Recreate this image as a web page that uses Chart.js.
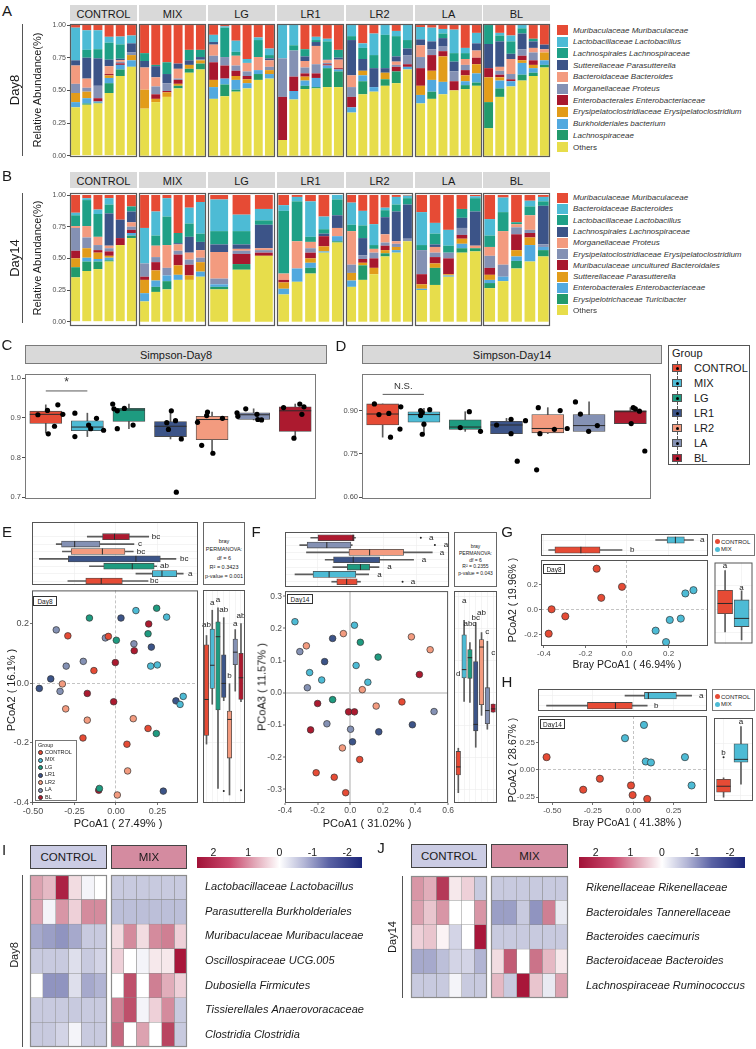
<!DOCTYPE html>
<html lang="en">
<head>
<meta charset="utf-8">
<title>Gut microbiota Day8 / Day14</title>
<script src="https://cdn.jsdelivr.net/npm/chart.js@4.4.1/dist/chart.umd.min.js"></script>
<style>
  html, body { margin: 0; background: #fff; }
  #fig { position: relative; width: 756px; height: 1049px; overflow: hidden;
         font-family: "Liberation Sans", Arial, sans-serif; color: #1a1a1a; }
  #fig canvas, #fig div { position: absolute; box-sizing: border-box; }
  .t { white-space: nowrap; line-height: 1; }
</style>
</head>
<body>
<div id="fig"></div>
<script>
// ---------------------------------------------------------------- groups
const groups = ['CONTROL', 'MIX', 'LG', 'LR1', 'LR2', 'LA', 'BL'];
const groupColours = ['#E64B35', '#4DBBD5', '#1E9B80', '#3C5488', '#F39B7F', '#8491B4', '#AC1A2F'];

// ---------------------------------------------------------------- A / B : taxa (legend order, top of stack first)
const taxaDay8 = ['Muribaculaceae Muribaculaceae', 'Lactobacillaceae Lactobacillus', 'Lachnospirales Lachnospiraceae',
  'Sutterellaceae Parasutterella', 'Bacteroidaceae Bacteroides', 'Morganellaceae Proteus',
  'Enterobacterales Enterobacteriaceae', 'Erysipelatoclostridiaceae Erysipelatoclostridium',
  'Burkholderiales bacterium', 'Lachnospiraceae', 'Others'];
const taxaDay14 = ['Muribaculaceae Muribaculaceae', 'Bacteroidaceae Bacteroides', 'Lactobacillaceae Lactobacillus',
  'Lachnospirales Lachnospiraceae', 'Morganellaceae Proteus', 'Erysipelatoclostridiaceae Erysipelatoclostridium',
  'Muribaculaceae uncultured Bacteroidales', 'Sutterellaceae Parasutterella', 'Enterobacterales Enterobacteriaceae',
  'Erysipelotrichaceae Turicibacter', 'Others'];
const taxaColours = ['#E64B35', '#4DBBD5', '#1FA087', '#3C5488', '#F39B7F', '#8491B4', '#A8182E', '#E29C1A', '#52A9DF', '#229A6C', '#E7DD4B'];
const abundanceTicks = [0, 0.25, 0.5, 0.75, 1];

// one row per sample, values from the bottom of the bar (Others) to the top (first legend entry)
const day8Control = [
  [.37, 0, .04, .07, 0, .07, .14, .04, 0, .25, .02],
  [.39, .01, .04, .05, 0, .03, .07, .16, .06, .15, .04],
  [.40, .005, .01, 0, .025, .095, 0, .21, .07, .145, .04],
  [.48, .075, .04, .02, .01, 0, .06, .05, .13, .045, .09],
  [.61, .05, .035, 0, .012, .012, .013, .01, .11, .06, .088],
  [.68, 0, .05, .04, 0, .02, 0, .07, 0, .06, .08]];
const day8Mix = [
  [.36, 0, 0, .145, 0, 0, .17, .05, .06, 0, .215],
  [.41, 0, 0, .025, .035, .06, .07, .085, .01, 0, .305],
  [.45, 0, 0, .035, .01, .06, 0, .07, .09, 0, .285],
  [.515, .02, 0, .015, .03, .01, .075, .04, 0, 0, .295],
  [.635, .03, 0, .03, 0, 0, 0, .035, .08, 0, .19],
  [.66, .045, 0, .025, 0, .01, 0, .015, .055, 0, .19]];
const day8Lg = [
  [.435, 0, .09, .055, .135, .05, .085, .02, 0, .055, .075],
  [.455, .09, .045, 0, .1, .065, 0, 0, .225, .01, .01],
  [.49, .015, .075, .03, .04, .04, .075, 0, .03, .085, .12],
  [.515, 0, .04, .03, .025, .035, .065, 0, 0, .03, .26],
  [.58, .045, .03, 0, 0, 0, .1, 0, .13, .02, .095],
  [.59, 0, .035, .03, 0, .025, .05, .015, .025, .05, .18]];
const day8Lr1 = [
  [.12, 0, 0, 0, .33, .295, 0, 0, 0, .255, 0],
  [.43, 0, .065, 0, .11, .2, 0, 0, .04, .155, 0],
  [.51, .025, .04, .03, .025, .045, .05, .035, .055, 0, .185],
  [.515, .01, .07, 0, .035, .07, .14, .03, .015, .025, .09],
  [.525, .145, .02, 0, .01, .01, .02, .005, .14, .02, .105],
  [.525, .12, .015, 0, .01, 0, .065, .015, .06, 0, .19]];
const day8Lr2 = [
  [.33, 0, .04, 0, .08, .075, .09, .27, .03, .085, 0],
  [.47, .1, .045, .035, 0, 0, 0, .09, .085, .035, .14],
  [.49, 0, .035, 0, 0, 0, 0, .145, .1, .165, .065],
  [.535, .05, 0, .05, 0, 0, 0, .035, .255, .075, 0],
  [.555, .09, 0, 0, .035, .015, .025, .04, .155, .04, .045],
  [.66, 0, .02, 0, .02, .07, 0, .05, .065, .115, 0]];
const day8La = [
  [.40, 0, .065, .07, .135, .085, .09, .045, 0, .095, .015],
  [.435, .055, .09, .07, .12, .045, 0, .06, 0, .105, .02],
  [.47, 0, .095, .195, .04, .035, 0, .065, .035, .035, .03],
  [.50, 0, 0, 0, .07, .075, 0, .075, .065, .18, .035],
  [.51, .03, .03, .045, .04, .04, .045, 0, .045, .04, .175],
  [.535, .025, .07, .07, .05, 0, .055, .055, 0, .08, .06]];
const day8Bl = [
  [.21, .2, 0, .19, .07, 0, 0, .185, .145, 0, 0],
  [.45, .065, .06, .025, .02, .03, .03, .195, .045, .02, .06],
  [.53, 0, .04, 0, .015, .04, .115, .04, .095, .045, .08],
  [.575, .045, .09, .02, .035, .05, 0, .12, .04, .025, 0],
  [.61, .025, .035, .025, .035, .06, .035, .05, .02, 0, .105],
  [.675, .02, .035, .06, 0, 0, .025, .035, 0, 0, .15]];

const day14Control = [
  [.35, .08, 0, .07, .06, .18, .015, 0, .085, .02, .14],
  [.40, .075, .03, .075, 0, .085, .09, 0, .205, .015, .025],
  [.415, .06, .02, .05, .02, .04, .065, 0, .18, .035, .115],
  [.475, .01, .02, .015, .035, .025, .02, .255, .07, .05, .025],
  [.605, 0, 0, 0, .055, 0, 0, .145, 0, 0, .195],
  [.66, .02, .02, 0, .025, .025, .035, .085, .04, 0, .09]];
const day14Mix = [
  [.16, 0, .065, .105, .025, .105, 0, 0, 0, .28, .26],
  [.235, .04, .05, .08, .065, .04, .09, 0, .08, .19, .13],
  [.255, .065, .045, 0, 0, .06, .18, 0, .225, .145, .025],
  [.33, 0, .04, .075, .085, .03, .05, .01, .08, 0, .30],
  [.33, 0, 0, .035, .085, .04, .055, .125, .105, .125, .10],
  [.355, 0, .04, .075, 0, .035, .06, .065, .065, .25, .055]];
const day14Lg = [
  [.255, .02, .02, 0, 0, .045, .21, .06, .105, .25, .035],
  [.41, .045, 0, 0, .08, .025, .015, .035, .105, .13, .155],
  [.52, 0, 0, 0, .025, .02, .015, .185, .035, .09, .11]];
const day14Lr1 = [
  [.215, 0, .045, .05, .02, 0, .05, 0, .495, .045, .08],
  [.315, 0, .105, 0, 0, 0, .215, 0, .315, .035, .015],
  [.38, .045, .04, .035, .045, .035, .05, 0, .04, .28, .05],
  [.545, 0, .01, .04, .08, 0, 0, .02, .035, .10, .17],
  [.625, .01, .04, 0, 0, 0, .065, .10, .125, .035, 0]];
const day14Lr2 = [
  [.275, 0, .05, .06, 0, .065, .265, 0, .05, .175, .06],
  [.33, .115, 0, .02, .03, .03, 0, .135, .10, .115, .125],
  [.375, 0, 0, .05, .075, .045, .03, 0, .03, .165, .23],
  [.515, .025, 0, .025, .035, .025, .065, .135, .055, .02, .10],
  [.545, 0, .02, .025, 0, .025, .02, .235, .055, .06, .015],
  [.635, 0, 0, 0, 0, .02, 0, .27, .05, .02, .005]];
const day14La = [
  [.25, 0, .01, .035, .08, .19, 0, 0, .04, .26, .135],
  [.29, .135, 0, .035, .05, .035, .045, .02, .085, .085, .22],
  [.355, 0, .01, .01, .125, .045, 0, 0, .055, .125, .275],
  [.545, .035, .035, .04, .03, .055, 0, .08, .07, 0, .11],
  [.555, .025, 0, 0, 0, 0, .02, .27, .105, .015, .01]];
const day14Bl = [
  [.265, .04, .025, .04, .055, .095, .07, 0, .09, .13, .19],
  [.32, 0, .035, 0, 0, .095, .265, 0, .15, .115, .02],
  [.42, .06, .035, .05, .125, .055, .025, 0, .015, 0, .215],
  [.475, 0, .13, .06, .035, .025, .115, 0, .07, .045, .045],
  [.515, .05, .025, 0, 0, .02, 0, .305, .035, .035, .015]];

// ---------------------------------------------------------------- C / D : Simpson index
// box statistics: [lower whisker, q1, median, q3, upper whisker]
const simpsonBoxD8 = [[.862, .886, .909, .917, .933], [.853, .868, .877, .893, .912], [.873, .891, .920, .924, .935],
  [.847, .853, .879, .891, .920], [.811, .845, .896, .904, .915], [.895, .896, .908, .913, .923], [.849, .866, .918, .928, .935]];
const simpsonPointsD8 = [[.908, .919, .933, .879, .860, .909], [.912, .853, .882, .873, .899, .869], [.935, .923, .918, .924, .873, .882],
  [.918, .888, .893, .871, .847, .713], [.889, .906, .915, .831, .811, .899], [.913, .904, .923, .909, .896, .895], [.926, .935, .928, .909, .849]];
const simpsonJitterD8 = [[-.19, .04, .29, .21, .06, .41], [-.3, -.3, .03, .08, .22, .39], [-.39, -.36, -.28, -.11, -.28, .1],
  [.02, -.09, .12, -.05, .26, .14], [-.35, -.13, -.11, -.25, .02, .25], [-.4, -.38, -.19, .08, .1, .19], [-.28, .11, .21, .16, -.03]];
const simpsonTicksD8 = [0.7, 0.8, 0.9, 1.0];

const simpsonBoxD14 = [[.808, .850, .888, .923, .923], [.818, .860, .886, .896, .908], [.828, .835, .843, .868, .896],
  [.820, .820, .850, .863, .873], [.820, .823, .838, .886, .910], [.828, .828, .848, .886, .930], [.855, .855, .896, .900, .910]];
const simpsonPointsD14 = [[.923, .886, .890, .913, .836, .808], [.900, .883, .893, .903, .853, .818], [.896, .841, .828],
  [.870, .865, .850, .820, .725], [.910, .900, .820, .835, .838, .695], [.930, .888, .828, .848], [.910, .906, .898, .855, .760]];
const simpsonJitterD14 = [[-.2, -.09, .15, .44, .42, .19], [-.08, -.08, -.04, .14, 0, -.04], [.1, -.12, .37],
  [.11, .46, -.24, .11, .26], [-.23, .3, -.19, .16, .47, -.27], [-.33, -.21, -.01, .2], [.07, .12, .22, .02, .35]];
const simpsonTicksD14 = [0.60, 0.75, 0.90];

// ---------------------------------------------------------------- E / F : PCoA, all groups ([axis 1, axis 2/3])
const pcoaDay8 = [
  [[-.29, .16], [-.046, .158], [-.133, .043], [.193, -.152], [-.199, -.184], [.066, -.205]],
  [[.12, .245], [.305, .223], [.209, .058], [.249, .062], [.386, -.071], [.405, -.044]],
  [[-.16, .22], [.245, .253], [.002, .145], [.193, .167], [.243, -.169], [-.10, -.354]],
  [[.03, .22], [.213, .122], [-.393, .015], [-.462, -.017], [.361, -.059], [.285, -.363]],
  [[-.323, -.002], [-.303, -.086], [-.173, -.124], [.104, -.119], [.07, -.295], [.008, -.376]],
  [[-.36, .18], [-.064, .153], [.108, .133], [-.30, .058], [-.197, .074], [-.337, -.027]],
  [[.197, .20], [.11, .11], [-.004, .07], [-.173, -.034], [-.014, -.062], [-.104, -.36]]];
const pcoaDay8TopBox = [[-.29, -.182, -.089, .038, .193], [.12, .219, .277, .366, .405], [-.16, -.074, .098, .23, .245],
  [-.462, -.287, .12, .267, .361], [-.323, -.27, -.082, .054, .104], [-.36, -.328, -.249, -.097, .108], [-.173, -.081, -.009, .081, .197]];
const pcoaDay8TopLetters = ['bc', 'a', 'ab', 'bc', 'bc', 'c', 'bc'];
const pcoaDay8TopLetterX = [.205, .434, .265, .386, .125, .133, .215];
const pcoaDay8RightBox = [[-.205, -.176, -.055, .129, .16], [-.071, -.018, .06, .182, .245], [-.354, -.09, .156, .206, .253],
  [-.059, -.048, -.001, .095, .22], [-.376, -.252, -.122, -.094, -.002], [-.027, .062, .104, .148, .18], [-.062, -.055, .018, .10, .20]];
const pcoaDay8RightOutliers = [[], [], [], [-.363], [], [], [-.36]];
const pcoaDay8RightLetters = ['ab', 'a', 'a', 'ab', 'b', 'a', 'ab'];
const pcoaDay8RightLetterY = [.195, .27, .279, .245, .024, .20, .226];

const pcoaDay14 = [
  [[.058, -.207], [.317, -.028], [-.209, -.248], [-.098, -.262], [-.028, -.31]],
  [[-.339, .221], [-.249, .063], [-.175, .04], [.026, .21], [.036, .085], [.108, .033]],
  [[.062, .157], [.171, .111], [-.108, -.021]],
  [[-.157, .097], [-.108, .169], [.014, -.152], [.175, -.121], [.381, -.099]],
  [[-.269, .146], [-.042, .184], [.074, .01], [-.048, -.171], [.375, .174], [.49, .134], [.159, -.041]],
  [[-.309, .128], [-.263, .016], [-.143, -.096], [.002, -.113], [.514, -.058]],
  [[-.20, -.033], [-.01, -.059], [.026, -.059], [-.243, -.115], [.424, .057]]];
const pcoaDay14TopBox = [[-.115, -.084, -.024, .04, .06], [-.339, -.229, -.131, .032, .11], [-.108, -.02, .06, .116, .173],
  [-.155, -.104, .016, .177, .384], [-.269, -.01, .116, .323, .498], [-.31, -.265, -.145, .002, .01], [-.243, -.199, .015, .022, .03]];
const pcoaDay14TopOutliers = [[.317], [], [], [], [], [.514], [.428]];
const pcoaDay14TopLetters = ['a', 'a', 'a', 'a', 'a', 'a', 'a'];
const pcoaDay14TopLetterX = [.367, .163, .223, .434, .544, .568, .478];
const pcoaDay14RightBox = [[-.31, -.255, -.23, -.182, -.172], [-.027, .046, .072, .18, .225], [-.03, .045, .109, .134, .156],
  [-.169, -.118, -.098, .097, .218], [-.07, -.037, .142, .165, .187], [-.113, -.096, -.055, .016, .16], [-.06, -.06, -.05, -.035, -.035]];
const pcoaDay14RightLetters = ['d', 'a', 'abc', 'bc', 'ab', 'c', 'c'];
const pcoaDay14RightLetterY = [.06, .286, .213, .232, .248, .188, .125];

// ---------------------------------------------------------------- G / H : Bray PCoA, CONTROL vs MIX
const brayDay8 = [
  [[-.146, .325], [-.024, .181], [-.124, .093], [-.363, .002], [-.297, -.054], [-.377, -.192]],
  [[.32, .154], [.281, .128], [.206, -.083], [.259, -.072], [.138, -.168], [.188, -.259]]];
const brayDay8TopBox = [[-.377, -.347, -.222, -.13, -.024], [.138, .193, .233, .276, .32]];
const brayDay8TopLetters = ['b', 'a'];
const brayDay8TopLetterX = [.014, .352];
const brayDay8RightBox = [[-.192, -.039, .048, .159, .325], [-.259, -.147, -.078, .078, .154]];
const brayDay8RightLetters = ['a', 'a'];
const brayDay8RightLetterY = [.365, .18];

const brayDay14 = [
  [[-.535, .116], [-.206, -.082], [-.309, -.183], [-.014, -.144], [-.004, -.232], [.086, -.268]],
  [[.066, .412], [-.051, .29], [.077, .076], [.109, .067], [.319, .116], [.36, -.144]]];
const brayDay14TopBox = [[-.535, -.283, -.11, -.006, .086], [-.051, .069, .093, .266, .36]];
const brayDay14TopLetters = ['b', 'a'];
const brayDay14TopLetterX = [.128, .406];
const brayDay14RightBox = [[-.268, -.22, -.163, -.097, -.082], [-.144, .069, .096, .246, .412]];
const brayDay14RightOutliers = [[.116], []];
const brayDay14RightLetters = ['b', 'a'];
const brayDay14RightLetterY = [.158, .458];

// ---------------------------------------------------------------- I / J : z-score heatmaps
const heatLabelsDay8 = ['Lactobacillaceae Lactobacillus', 'Parasutterella Burkholderiales', 'Muribaculaceae Muribaculaceae',
  'Oscillospiraceae UCG.005', 'Dubosiella Firmicutes', 'Tissierellales Anaerovoracaceae', 'Clostridia Clostridia'];
const heatDay8Control = [
  [0.8, 0.6, 1.9, 0.3, -0.1, 0.0], [0.8, -0.1, 0.9, 0.4, 1.0, 1.0], [-0.8, -0.9, -1.0, -0.8, -0.5, -0.5],
  [-0.5, -0.5, -0.5, -0.3, -0.5, -0.4], [0.0, -1.0, -1.0, -0.3, -0.8, -0.7], [-0.5, -0.5, -0.5, -0.5, -0.5, -0.5],
  [-0.5, -0.5, -0.4, -0.1, -0.5, -0.5]];
const heatDay8Mix = [
  [-0.5, -0.5, -0.5, -0.5, -0.5, -0.5], [-0.6, -0.6, -0.6, -0.6, -0.6, -0.6], [0.3, 1.0, 0.3, 1.0, 1.1, 0.4],
  [0.4, 0.0, -0.1, 0.2, 0.2, 2.0], [0.0, 1.5, 0.0, 1.1, 0.7, 0.4], [1.1, 1.5, -0.1, 0.4, 1.0, -0.5],
  [1.3, 0.0, 0.8, 0.0, 1.6, -0.5]];
const heatLabelsDay14 = ['Rikenellaceae Rikenellaceae', 'Bacteroidales Tannerellaceae', 'Bacteroides caecimuris',
  'Bacteroidaceae Bacteroides', 'Lachnospiraceae Ruminococcus'];
const heatDay14Control = [
  [0.9, 0.7, 1.7, 0.2, 0.4, -0.5], [0.8, 0.5, 0.9, 0.0, 0.0, 0.9], [0.4, 0.5, 0.1, -0.4, 0.0, 2.0],
  [-0.8, -0.8, -0.6, -0.4, -0.4, -0.7], [-0.5, -0.5, -0.5, -0.1, -0.5, -0.5]];
const heatDay14Mix = [
  [-0.5, -0.5, -0.5, -0.5, -0.5, -0.5], [-0.9, -0.9, -0.5, -1.0, 1.1, -0.2], [-0.5, -0.5, -0.5, -0.5, -0.5, -0.5],
  [0.3, 1.4, 0.0, 1.2, 0.6, 0.2], [0.6, -0.5, 2.0, 0.5, -0.2, 0.8]];
const colourBarLabels = ['2', '1', '0', '-1', '-2'];

// ================================================================ helpers
const fig = document.getElementById('fig');
const PAD = 6;

Chart.defaults.font.family = '"Liberation Sans", Arial, sans-serif';
Chart.defaults.animation = false;
Chart.defaults.responsive = false;
Chart.defaults.maintainAspectRatio = false;
Chart.defaults.events = [];
Chart.defaults.plugins.legend.display = false;
Chart.defaults.plugins.tooltip.enabled = false;

/** Strokes the plot area, like the panel border of ggplot */
const framePlugin = {
  id: 'frame',
  defaults: { color: '#555', width: 1 },
  afterDraw(chart, args, opts) {
    const { ctx, chartArea: a } = chart;
    ctx.save();
    ctx.strokeStyle = opts.color;
    ctx.lineWidth = opts.width;
    ctx.strokeRect(a.left + 0.5, a.top + 0.5, a.width - 1, a.height - 1);
    ctx.restore();
  }
};

/** Small text annotations placed in data coordinates (letters, significance) */
const tagPlugin = {
  id: 'tags',
  defaults: { items: [], size: 8, align: 'center', color: '#1a1a1a' },
  afterDatasetsDraw(chart, args, opts) {
    const { ctx, scales } = chart;
    ctx.save();
    ctx.fillStyle = opts.color;
    ctx.font = opts.size + 'px "Liberation Sans", Arial, sans-serif';
    ctx.textAlign = opts.align;
    ctx.textBaseline = 'middle';
    opts.items.forEach(t => {
      ctx.fillText(t.text, scales.x.getPixelForValue(t.x), scales.y.getPixelForValue(t.y));
    });
    ctx.restore();
  }
};
Chart.register(framePlugin, tagPlugin);

/**
 * Canvas whose chart area lands on `area` ([x, y, w, h]) once axes of the given sizes are laid out
 */
function makeCanvas(area, axisLeft = 0, axisBottom = 0, axisRight = 0, padY = PAD) {
  const c = document.createElement('canvas');
  const w = Math.round(area[2] + axisLeft + axisRight + 2 * PAD);
  const h = Math.round(area[3] + axisBottom + 2 * padY);
  c.width = w;
  c.height = h;
  Object.assign(c.style, {
    left: (area[0] - axisLeft - PAD) + 'px', top: (area[1] - padY) + 'px',
    width: w + 'px', height: h + 'px'
  });
  fig.appendChild(c);
  return c;
}

function addBox(x, y, w, h, style) {
  const d = document.createElement('div');
  Object.assign(d.style, { left: x + 'px', top: y + 'px', width: w + 'px', height: h + 'px' }, style);
  fig.appendChild(d);
  return d;
}

function addText(text, x, y, o = {}) {
  const d = document.createElement('div');
  d.className = 't';
  d.textContent = text;
  d.style.left = x + 'px';
  d.style.top = y + 'px';
  d.style.fontSize = (o.size || 10) + 'px';
  if (o.italic) d.style.fontStyle = 'italic';
  if (o.color) d.style.color = o.color;
  const ax = o.align === 'left' ? '0' : o.align === 'right' ? '-100%' : '-50%';
  d.style.transform = `translate(${ax}, -50%)` + (o.rotate ? ` rotate(${o.rotate}deg)` : '');
  fig.appendChild(d);
  return d;
}

function fixedTicks(values) {
  return ax => { ax.ticks = values.map(v => ({ value: v })); };
}

/** z-score -> colour of the heatmap scale (red 2 ... white 0 ... blue -2) */
function zColour(z) {
  const hi = [168, 22, 58], mid = [255, 255, 255], lo = [33, 41, 128];
  const t = Math.min(Math.abs(z) / 2, 1);
  const end = z >= 0 ? hi : lo;
  const c = mid.map((m, i) => Math.round(m + (end[i] - m) * t));
  return `rgb(${c.join(',')})`;
}

/**
 * Whisker, box and median datasets of a box plot
 * @param {Array} stats - [min, q1, median, q3, max] per group
 */
function boxDatasets(stats, colours, horizontal, boxWidth) {
  const idx = horizontal ? 'y' : 'x';
  const val = horizontal ? 'x' : 'y';
  const at = (g, v) => ({ [idx]: g + 1, [val]: v });
  return [
    { type: 'bar', indexAxis: idx, grouped: false, order: 3,
      data: stats.map((s, g) => at(g, [s[0], s[4]])),
      backgroundColor: '#5c5c5c', borderWidth: 0, barThickness: 1 },
    { type: 'bar', indexAxis: idx, grouped: false, order: 2,
      data: stats.map((s, g) => at(g, [s[1], s[3]])),
      backgroundColor: colours.slice(0, stats.length), borderColor: '#4a4a4a', borderWidth: 0.8,
      borderSkipped: false, barThickness: boxWidth },
    { type: 'scatter', order: 1,
      data: stats.map((s, g) => at(g, s[2])),
      pointStyle: 'line', pointRadius: boxWidth / 2, pointRotation: horizontal ? 90 : 0,
      pointBorderColor: '#2b2b2b', pointBorderWidth: 1 }
  ];
}

// ================================================================ A / B : stacked composition
function drawAbundance(rowsByGroup, top, yRange, stripTop) {
  rowsByGroup.forEach((rows, g) => {
    const x0 = Math.round(70 + g * 68.9);
    const axisW = g === 0 ? 24 : 0;
    const canvas = makeCanvas([x0, top, 67, 133], axisW);
    new Chart(canvas, {
      type: 'bar',
      data: {
        labels: rows.map((r, i) => 'S' + (i + 1)),
        datasets: rows[0].map((v, k) => ({
          data: rows.map(r => r[k]),
          backgroundColor: taxaColours[10 - k],
          borderWidth: 0,
          categoryPercentage: 0.8,
          barPercentage: 1
        }))
      },
      options: {
        layout: { padding: PAD },
        plugins: { frame: { color: '#5a5a5a', width: 1.2 } },
        scales: {
          x: { stacked: true, display: false },
          y: {
            stacked: true, min: yRange[0], max: yRange[1], display: g === 0,
            afterBuildTicks: fixedTicks(abundanceTicks),
            afterFit: ax => { ax.width = axisW; },
            ticks: { font: { size: 7 }, color: '#4d4d4d', padding: 1, autoSkip: false, callback: v => v.toFixed(2) },
            grid: { drawOnChartArea: false, tickLength: 3, color: '#4d4d4d' },
            border: { display: false }
          }
        }
      }
    });
    addBox(x0, stripTop, 67, 16, { background: '#d9d9d9' });
    addText(groups[g], x0 + 33.5, stripTop + 8.5, { size: 11 });
  });
}

function drawTaxaLegend(taxa, top, step) {
  taxa.forEach((name, i) => {
    const y = top + i * step;
    addBox(557, y, 11, 10, { background: taxaColours[i] });
    addText(name, 573, y + 5.5, { size: 8, align: 'left', italic: name !== 'Others', color: '#333' });
  });
}

addText('A', 7, 10, { size: 15 });
drawAbundance([day8Control, day8Mix, day8Lg, day8Lr1, day8Lr2, day8La, day8Bl], 24, [-0.01, 1.008], 5);
addText('Relative Abundance(%)', 37, 90, { size: 11, rotate: -90 });
addText('Day8', 14, 90, { size: 13, rotate: -90 });
addBox(22, 24, 1, 132, { background: '#555' });
drawTaxaLegend(taxaDay8, 25, 11.7);

addText('B', 7, 175, { size: 15 });
drawAbundance([day14Control, day14Mix, day14Lg, day14Lr1, day14Lr2, day14La, day14Bl], 193, [-0.034, 1.016], 172);
addText('Relative Abundance(%)', 37, 258, { size: 11, rotate: -90 });
addText('Day14', 14, 258, { size: 13, rotate: -90 });
addBox(22, 193, 1, 130, { background: '#555' });
drawTaxaLegend(taxaDay14, 192.7, 11.27);

// ================================================================ C / D : alpha diversity
function drawAlpha(area, axisLeft, cfg) {
  const canvas = makeCanvas(area, axisLeft);
  const datasets = boxDatasets(cfg.stats, groupColours, false, 32);
  datasets.push({
    type: 'scatter', order: 0,
    data: cfg.values.flatMap((vals, g) => vals.map((v, k) => ({ x: g + 1 + cfg.jitter[g][k], y: v }))),
    pointRadius: 2.6, pointBackgroundColor: '#000', pointBorderWidth: 0
  });
  datasets.push({
    type: 'line', order: 0,
    data: [{ x: 1, y: cfg.sig[0] }, { x: 2, y: cfg.sig[0] }],
    borderColor: '#5a5a5a', borderWidth: 1, pointRadius: 0
  });
  new Chart(canvas, {
    type: 'bar',
    data: { datasets },
    options: {
      layout: { padding: PAD },
      plugins: {
        frame: { color: '#7a7a7a' },
        tags: { items: [{ x: 1.5, y: cfg.sig[1], text: cfg.sig[2] }], size: cfg.sigSize, color: '#333' }
      },
      scales: {
        x: { type: 'linear', min: 0.5, max: 7.5, display: false, offset: false },
        y: {
          type: 'linear', min: cfg.range[0], max: cfg.range[1], offset: false,
          afterBuildTicks: fixedTicks(cfg.ticks),
          afterFit: ax => { ax.width = axisLeft; },
          ticks: { font: { size: 7.5 }, color: '#4d4d4d', padding: 1, autoSkip: false, callback: v => v.toFixed(cfg.digits) },
          grid: { drawOnChartArea: false, tickLength: 3, color: '#4d4d4d' },
          border: { display: false }
        }
      }
    }
  });
  addBox(area[0], 345, area[2], 19, { background: '#d9d9d9', border: '1px solid #7a7a7a' });
  addText(cfg.title, area[0] + area[2] / 2, 354.5, { size: 11 });
}

addText('C', 7, 344, { size: 15 });
drawAlpha([25, 363, 302, 147], 25, {
  stats: simpsonBoxD8, values: simpsonPointsD8, jitter: simpsonJitterD8, ticks: simpsonTicksD8,
  range: [0.6957, 1.0107], digits: 1, sig: [0.968, 0.988, '*'], sigSize: 12, title: 'Simpson-Day8'
});
addText('D', 341, 345, { size: 15 });
drawAlpha([362, 363, 300, 147], 30, {
  stats: simpsonBoxD14, values: simpsonPointsD14, jitter: simpsonJitterD14, ticks: simpsonTicksD14,
  range: [0.594, 1.0265], digits: 2, sig: [0.956, 0.985, 'N.S.'], sigSize: 9.5, title: 'Simpson-Day14'
});

// group legend
addBox(668, 345, 82, 120, { border: '1px solid #555', background: '#fff' });
addText('Group', 672, 353, { size: 11, align: 'left' });
groups.forEach((g, i) => {
  const y = 368 + i * 15;
  addBox(676.5, y - 7, 1, 14, { background: '#555' });
  addBox(672, y - 4, 10, 8, { background: groupColours[i], border: '1px solid #555' });
  addBox(675.5, y - 1.5, 3, 3, { background: '#000', borderRadius: '50%' });
  addText(g, 694, y, { size: 11, align: 'left' });
});

// ================================================================ E - H : ordinations
function pcoaAxis(range, ticks, size, font, zero, digits) {
  return {
    type: 'linear', min: range[0], max: range[1],
    afterBuildTicks: fixedTicks(ticks),
    afterFit: ax => { if (ax.isHorizontal()) ax.height = size; else ax.width = size; },
    ticks: { font: { size: font }, color: '#4d4d4d', padding: 1, maxRotation: 0, autoSkip: false, callback: v => v.toFixed(digits) },
    grid: {
      color: c => (c.tick && c.tick.value === 0 ? zero.color : 'rgba(0,0,0,0)'),
      lineWidth: zero.width, tickLength: 2, tickColor: '#4d4d4d', tickWidth: 0.8
    },
    border: { display: false, dash: zero.dash }
  };
}

function drawPcoa(area, cfg) {
  const canvas = makeCanvas(area, cfg.axisLeft, cfg.axisBottom);
  new Chart(canvas, {
    type: 'scatter',
    data: {
      datasets: cfg.points.map((pts, g) => ({
        data: pts.map(p => ({ x: p[0], y: p[1] })),
        pointBackgroundColor: groupColours[g],
        pointBorderColor: '#333',
        pointBorderWidth: 0.7,
        pointRadius: cfg.radius
      }))
    },
    options: {
      layout: { padding: PAD },
      plugins: { frame: { color: '#555' } },
      scales: {
        x: pcoaAxis(cfg.xRange, cfg.xTicks, cfg.axisBottom, cfg.font, cfg.zero, cfg.xDigits),
        y: pcoaAxis(cfg.yRange, cfg.yTicks, cfg.axisLeft, cfg.font, cfg.zero, cfg.yDigits)
      }
    }
  });
}

function drawMarginal(area, cfg) {
  const h = cfg.horizontal;
  const canvas = makeCanvas(area);
  const datasets = boxDatasets(cfg.stats, groupColours, h, cfg.boxWidth);
  if (cfg.outliers) {
    datasets.push({
      type: 'scatter', order: 0,
      data: cfg.outliers.flatMap((vals, g) => vals.map(v => (h ? { x: v, y: g + 1 } : { x: g + 1, y: v }))),
      pointRadius: 1, pointBackgroundColor: '#222', pointBorderWidth: 0
    });
  }
  const faint = { color: '#ececec', lineWidth: 0.6, drawTicks: false, offset: false };
  const groupAxis = {
    type: 'linear', min: cfg.groupRange[0], max: cfg.groupRange[1], offset: false,
    afterBuildTicks: fixedTicks(cfg.stats.map((s, i) => i + 1)),
    afterFit: ax => { if (ax.isHorizontal()) ax.height = 0; else ax.width = 0; },
    ticks: { display: false }, grid: faint, border: { display: false }
  };
  const valueAxis = {
    type: 'linear', min: cfg.valueRange[0], max: cfg.valueRange[1], offset: false,
    afterBuildTicks: fixedTicks(cfg.valueTicks),
    afterFit: ax => { if (ax.isHorizontal()) ax.height = 0; else ax.width = 0; },
    ticks: { display: false }, grid: faint, border: { display: false }
  };
  new Chart(canvas, {
    type: 'bar',
    data: { datasets },
    options: {
      indexAxis: h ? 'y' : 'x',
      layout: { padding: PAD },
      plugins: {
        frame: { color: '#555' },
        tags: {
          items: cfg.letters.map((t, g) => (h ? { x: cfg.letterAt[g], y: g + 1, text: t } : { x: g + 1, y: cfg.letterAt[g], text: t })),
          size: 8, align: h ? 'left' : 'center'
        }
      },
      scales: h ? { x: valueAxis, y: groupAxis } : { x: groupAxis, y: valueAxis }
    }
  });
}

function statBox(area, lines, first, step, size) {
  addBox(area[0], area[1], area[2], area[3], { border: '1px solid #666', background: '#fff' });
  lines.forEach((l, i) => addText(l, area[0] + area[2] / 2, first + i * step, { size }));
}

function dayTag(text, x, y, w, h) {
  addBox(x, y, w, h, { border: '1px solid #333', background: '#fff' });
  addText(text, x + w / 2, y + h / 2 + 0.5, { size: 6.5 });
}

const dashedZero = { color: '#b5b5b5', width: 0.8, dash: [3, 2] };

// ---- E
addText('E', 7, 531, { size: 15 });
const eX = [-0.506, 0.494], eY = [-0.403, 0.313];
drawPcoa([32, 590, 166, 213], {
  points: pcoaDay8, axisLeft: 32, axisBottom: 14, radius: 3.3, font: 9, zero: dashedZero,
  xRange: eX, yRange: eY, xTicks: [-0.5, -0.25, 0, 0.25], yTicks: [-0.4, -0.2, 0, 0.2], xDigits: 2, yDigits: 1
});
drawMarginal([32, 522, 166, 63], {
  horizontal: true, stats: pcoaDay8TopBox, boxWidth: 6, groupRange: [0.46, 8.99],
  valueRange: eX, valueTicks: [-0.5, -0.25, 0, 0.25], letters: pcoaDay8TopLetters, letterAt: pcoaDay8TopLetterX
});
drawMarginal([203, 590, 42, 213], {
  horizontal: false, stats: pcoaDay8RightBox, outliers: pcoaDay8RightOutliers, boxWidth: 4.5, groupRange: [0.39, 7.7],
  valueRange: eY, valueTicks: [-0.4, -0.2, 0, 0.2], letters: pcoaDay8RightLetters, letterAt: pcoaDay8RightLetterY
});
statBox([203, 522, 42, 63], ['bray', 'PERMANOVA:', 'df = 6', 'R\u00b2 = 0.3423', 'p-value = 0.001'], 541.7, 8.7, 5.5);
dayTag('Day8', 33, 596, 24, 10);
addText('PCoA1 ( 27.49% )', 118, 823, { size: 11 });
addText('PCoA2 ( 16.1% )', 11, 690, { size: 11, rotate: -90 });
addBox(35, 740, 42, 61, { border: '1px solid #777', background: '#fff' });
addText('Group', 38, 745.5, { size: 5.5, align: 'left' });
groups.forEach((g, i) => {
  const y = 752.5 + i * 7.5;
  addBox(38, y - 2.5, 5, 5, { background: groupColours[i], borderRadius: '50%', border: '0.5px solid #333' });
  addText(g, 45, y, { size: 5.5, align: 'left' });
});

// ---- F
addText('F', 256, 531, { size: 15 });
const fX = [-0.4, 0.6], fY = [-0.342, 0.316];
drawPcoa([285, 591, 164, 212], {
  points: pcoaDay14, axisLeft: 35, axisBottom: 14, radius: 3.3, font: 8.5, zero: { color: '#d6d6d6', width: 2, dash: [] },
  xRange: fX, yRange: fY, xTicks: [-0.4, -0.2, 0, 0.2, 0.4, 0.6], yTicks: [-0.3, -0.2, -0.1, 0, 0.1, 0.2, 0.3], xDigits: 1, yDigits: 1
});
drawMarginal([285, 532, 164, 55], {
  horizontal: true, stats: pcoaDay14TopBox, outliers: pcoaDay14TopOutliers, boxWidth: 6, groupRange: [0.28, 7.78],
  valueRange: fX, valueTicks: [-0.4, -0.2, 0, 0.2, 0.4, 0.6], letters: pcoaDay14TopLetters, letterAt: pcoaDay14TopLetterX
});
drawMarginal([454, 591, 43, 212], {
  horizontal: false, stats: pcoaDay14RightBox, boxWidth: 4.5, groupRange: [0.26, 7.66],
  valueRange: fY, valueTicks: [-0.3, -0.2, -0.1, 0, 0.1, 0.2, 0.3], letters: pcoaDay14RightLetters, letterAt: pcoaDay14RightLetterY
});
statBox([454, 532, 43, 55], ['bray', 'PERMANOVA:', 'df = 6', 'R\u00b2 = 0.2355', 'p-value = 0.043'], 546, 6.8, 5);
dayTag('Day14', 287, 594, 26, 10);
addText('PCoA1 ( 31.02% )', 367, 823, { size: 11 });
addText('PCoA3 ( 11.57% )', 262, 687, { size: 11, rotate: -90 });

// ---- G / H
function drawPairLegend(top) {
  addBox(712, top, 43, 22, { border: '1px solid #777', background: '#fff' });
  ['CONTROL', 'MIX'].forEach((g, i) => {
    const y = top + 7.5 + i * 7.5;
    addBox(714.5, y - 2.5, 5, 5, { background: groupColours[i], borderRadius: '50%' });
    addText(g, 721, y, { size: 6, align: 'left' });
  });
}

addText('G', 507, 531, { size: 15 });
const gX = [-0.414, 0.39], gY = [-0.29, 0.394];
drawPcoa([541, 560, 167, 86], {
  points: brayDay8, axisLeft: 30, axisBottom: 12, radius: 3.6, font: 8, zero: dashedZero,
  xRange: gX, yRange: gY, xTicks: [-0.4, -0.2, 0, 0.2], yTicks: [-0.2, 0, 0.2], xDigits: 1, yDigits: 1
});
drawMarginal([541, 534, 167, 22], {
  horizontal: true, stats: brayDay8TopBox, boxWidth: 6.5, groupRange: [0.4, 2.6],
  valueRange: gX, valueTicks: [-0.4, -0.2, 0, 0.2], letters: brayDay8TopLetters, letterAt: brayDay8TopLetterX
});
drawMarginal([712, 560, 43, 86], {
  horizontal: false, stats: brayDay8RightBox, boxWidth: 15, groupRange: [0.36, 2.66],
  valueRange: gY, valueTicks: [-0.2, 0, 0.2], letters: brayDay8RightLetters, letterAt: brayDay8RightLetterY
});
drawPairLegend(534);
dayTag('Day8', 543, 564, 22, 10);
addText('Bray PCoA1 ( 46.94% )', 627, 664, { size: 10.5 });
addText('PCoA2 ( 19.96% )', 512, 600, { size: 10.5, rotate: -90 });

addText('H', 507, 681, { size: 15 });
const hX = [-0.588, 0.455], hY = [-0.305, 0.494];
drawPcoa([538, 716, 169, 87], {
  points: brayDay14, axisLeft: 30, axisBottom: 12, radius: 3.6, font: 8, zero: dashedZero,
  xRange: hX, yRange: hY, xTicks: [-0.5, -0.25, 0, 0.25], yTicks: [-0.25, 0, 0.25], xDigits: 2, yDigits: 2
});
drawMarginal([538, 689, 169, 22], {
  horizontal: true, stats: brayDay14TopBox, boxWidth: 6.5, groupRange: [0.47, 2.67],
  valueRange: hX, valueTicks: [-0.5, -0.25, 0, 0.25], letters: brayDay14TopLetters, letterAt: brayDay14TopLetterX
});
drawMarginal([712, 716, 43, 87], {
  horizontal: false, stats: brayDay14RightBox, outliers: brayDay14RightOutliers, boxWidth: 14, groupRange: [0.45, 2.69],
  valueRange: hY, valueTicks: [-0.25, 0, 0.25], letters: brayDay14RightLetters, letterAt: brayDay14RightLetterY
});
drawPairLegend(689);
dayTag('Day14', 540, 719, 25, 10);
addText('Bray PCoA1 ( 41.38% )', 627, 822, { size: 10.5 });
addText('PCoA2 ( 28.67% )', 512, 760, { size: 10.5, rotate: -90 });

// ================================================================ I / J : heatmaps
function drawHeat(area, rows, labels, showLabels) {
  const labelWidth = showLabels ? 180 : 0;
  // the label axis asks for half a label plus its padding above and below the plot, so leave room for it
  const padY = 22;
  const canvas = makeCanvas(area, 0, 0, labelWidth, padY);
  new Chart(canvas, {
    type: 'bar',
    data: {
      labels,
      datasets: rows[0].map((v, j) => ({
        data: rows.map(() => 1),
        backgroundColor: rows.map(r => zColour(r[j])),
        borderColor: '#8c8c8c', borderWidth: 0.5, borderSkipped: false,
        barPercentage: 1, categoryPercentage: 1
      }))
    },
    options: {
      indexAxis: 'y',
      layout: { padding: { left: PAD, right: PAD, top: padY, bottom: padY } },
      plugins: { frame: { color: '#8c8c8c', width: 1.2 } },
      scales: {
        x: { stacked: true, min: 0, max: rows[0].length, display: false },
        y: {
          stacked: true, position: 'right', display: showLabels,
          // afterFit also runs for a hidden axis, so the width must follow the flag
          afterFit: ax => { ax.width = labelWidth; },
          ticks: { font: { size: 11, style: 'italic' }, color: '#1a1a1a', padding: 10, autoSkip: false },
          grid: { display: false }, border: { display: false }
        }
      }
    }
  });
}

function drawHeatHeader(ctrl, mix, top, bar) {
  addBox(ctrl[0], top, ctrl[1], 24, { background: '#CBCCE4', border: '1px solid #444' });
  addText('CONTROL', ctrl[0] + ctrl[1] / 2, top + 12.5, { size: 11.5 });
  addBox(mix[0], top, mix[1], 24, { background: '#D48BA0', border: '1px solid #444' });
  addText('MIX', mix[0] + mix[1] / 2, top + 12.5, { size: 11.5 });
  addBox(bar[0], 857, bar[1], 11, {
    background: 'linear-gradient(to right, #a11237, #c9476c 20%, #e2a7b7 35%, #ffffff 50%, #b3b6d6 65%, #5a62a4 80%, #1c2679)'
  });
  [0.1, 0.31, 0.5, 0.7, 0.91].forEach((f, i) => addText(colourBarLabels[i], bar[0] + bar[1] * f, 851.5, { size: 10.5 }));
}

addText('I', 4, 849, { size: 15 });
drawHeat([30, 875, 77, 172], heatDay8Control, heatLabelsDay8, false);
drawHeat([111, 875, 76, 172], heatDay8Mix, heatLabelsDay8, true);
drawHeatHeader([30, 77], [111, 76], 845, [197, 165]);
addText('Day8', 14, 955, { size: 11, rotate: -90 });
addBox(22, 875, 1, 172, { background: '#555' });

addText('J', 381, 847, { size: 15 });
drawHeat([411, 876, 76, 122], heatDay14Control, heatLabelsDay14, false);
drawHeat([491, 876, 77, 122], heatDay14Mix, heatLabelsDay14, true);
drawHeatHeader([411, 76], [491, 77], 844, [579, 166]);
addText('Day14', 392, 937, { size: 11, rotate: -90 });
addBox(402, 876, 1, 122, { background: '#555' });
</script>
</body>
</html>
